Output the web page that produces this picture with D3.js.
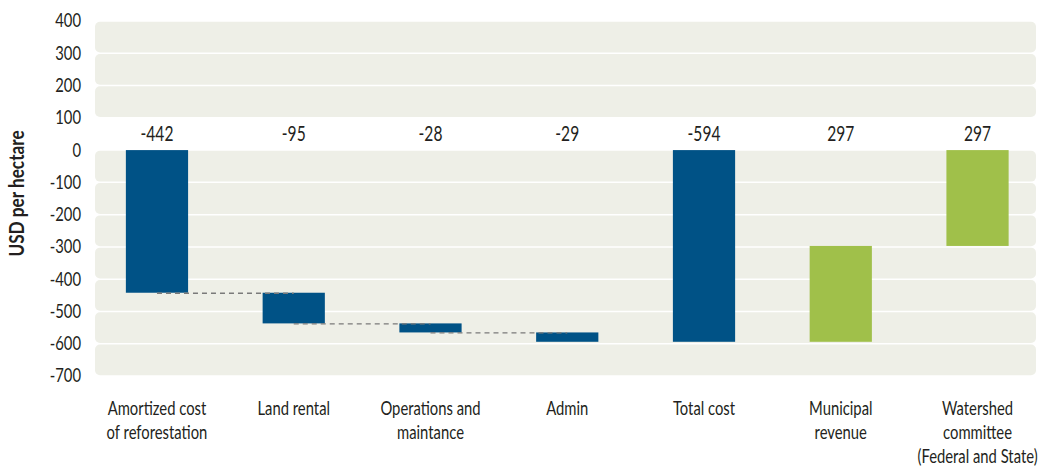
<!DOCTYPE html>
<html>
<head>
<meta charset="utf-8">
<script src="https://cdn.jsdelivr.net/npm/d3@7"></script>
<style>
  html, body { margin: 0; padding: 0; background: #ffffff; }
  svg { display: block; }
  text { font-family: Lato, "Noto Sans", sans-serif; fill: #231f20; }
</style>
</head>
<body>
<svg id="chart" width="1038" height="470"></svg>
<script>
// Cost and revenue components of reforestation, USD per hectare
const categories = [
  "Amortized cost of reforestation",
  "Land rental",
  "Operations and maintance",
  "Admin",
  "Total cost",
  "Municipal revenue",
  "Watershed committee (Federal and State)"
];
const categoryLines = [
  ["Amortized cost", "of reforestation"],
  ["Land rental"],
  ["Operations and", "maintance"],
  ["Admin"],
  ["Total cost"],
  ["Municipal", "revenue"],
  ["Watershed", "committee", "(Federal and State)"]
];
const values = [-442, -95, -28, -29, -594, 297, 297];
// "step" bars stack on the running total, "total" bars start from zero
const kinds = ["step", "step", "step", "step", "total", "step", "step"];
const groups = ["cost", "cost", "cost", "cost", "cost", "revenue", "revenue"];
const yTicks = [400, 300, 200, 100, 0, -100, -200, -300, -400, -500, -600, -700];

const colors = { cost: "#005286", revenue: "#a0c04a" };
const SQUEEZE = 0.8; // horizontal condensing of the typeface

const svg = d3.select("#chart");

const x = d3.scaleBand()
  .domain(categories)
  .range([88.6, 1045.9])
  .paddingInner(0.545)
  .paddingOuter(0.2725);

const y = d3.scaleLinear()
  .domain([-700, 400])
  .range([376, 21]);

// running totals for the waterfall
let running = 0;
const bars = categories.map((c, i) => {
  let start, end;
  if (kinds[i] === "total") {
    start = 0; end = values[i];
    running = values[i];
  } else {
    start = running; end = running + values[i];
    running = end;
  }
  return { cat: c, value: values[i], start, end, group: groups[i], kind: kinds[i] };
});

// background rows, one per tick interval, leaving the 0–100 row open for labels
const rows = d3.pairs(yTicks).filter(([a, b]) => !(a === 100 && b === 0));
svg.append("g")
  .selectAll("rect")
  .data(rows)
  .join("rect")
  .attr("x", 95)
  .attr("width", 1036 - 95)
  .attr("y", d => y(d[0]) + 0.75)
  .attr("height", d => y(d[1]) - y(d[0]) - 1.5)
  .attr("rx", 5)
  .attr("fill", "#eeefe7");

// y axis labels
const yAxis = d3.axisLeft(y)
  .tickValues(yTicks)
  .tickSize(0)
  .tickPadding(0)
  .tickFormat(d => String(d));
const gy = svg.append("g").attr("transform", "translate(81,0)").call(yAxis);
gy.select(".domain").remove();
gy.selectAll("text")
  .attr("x", 0)
  .attr("font-size", 18.5)
  .attr("fill", "#231f20")
  .attr("transform", `scale(${SQUEEZE},1)`)
  .style("font-family", "Lato, 'Noto Sans', sans-serif");

svg.append("text")
  .attr("transform", `translate(24,${(y(400) + y(-700)) / 2 - 5}) rotate(-90) scale(0.86,1)`)
  .attr("text-anchor", "middle")
  .attr("font-size", 20)
  .attr("font-weight", "bold")
  .text("USD per hectare");

// bars
svg.append("g")
  .selectAll("rect")
  .data(bars)
  .join("rect")
  .attr("x", d => x(d.cat))
  .attr("width", x.bandwidth())
  .attr("y", d => y(Math.max(d.start, d.end)))
  .attr("height", d => Math.abs(y(d.start) - y(d.end)))
  .attr("fill", d => colors[d.group]);

// dashed connectors between consecutive cost steps
const links = [];
for (let i = 0; i < 3; i++) {
  links.push({ from: bars[i].cat, to: bars[i + 1].cat, level: bars[i].end });
}
svg.append("g")
  .selectAll("line")
  .data(links)
  .join("line")
  .attr("x1", d => x(d.from) + x.bandwidth() / 2)
  .attr("x2", d => x(d.to) + x.bandwidth() / 2)
  .attr("y1", d => y(d.level) + 0.5)
  .attr("y2", d => y(d.level) + 0.5)
  .attr("stroke", "#7a7a7a")
  .attr("stroke-width", 1.3)
  .attr("stroke-dasharray", "5,4");

// value labels sit in the open row above zero
svg.append("g")
  .selectAll("text")
  .data(bars)
  .join("text")
  .attr("transform", d => `translate(${x(d.cat) + x.bandwidth() / 2},${y(50) + 7.5}) scale(${SQUEEZE - 0.04},1)`)
  .attr("text-anchor", "middle")
  .attr("font-size", 20.5)
  .text(d => d.value);

// category labels
const gx = svg.append("g");
categories.forEach((c, i) => {
  const t = gx.append("text")
    .attr("transform", `translate(${x(c) + x.bandwidth() / 2},415) scale(${SQUEEZE},1)`)
    .attr("text-anchor", "middle")
    .attr("font-size", 18.5);
  categoryLines[i].forEach((line, j) => {
    t.append("tspan")
      .attr("x", 0)
      .attr("dy", j === 0 ? 0 : 24)
      .text(line);
  });
});
</script>
</body>
</html>
